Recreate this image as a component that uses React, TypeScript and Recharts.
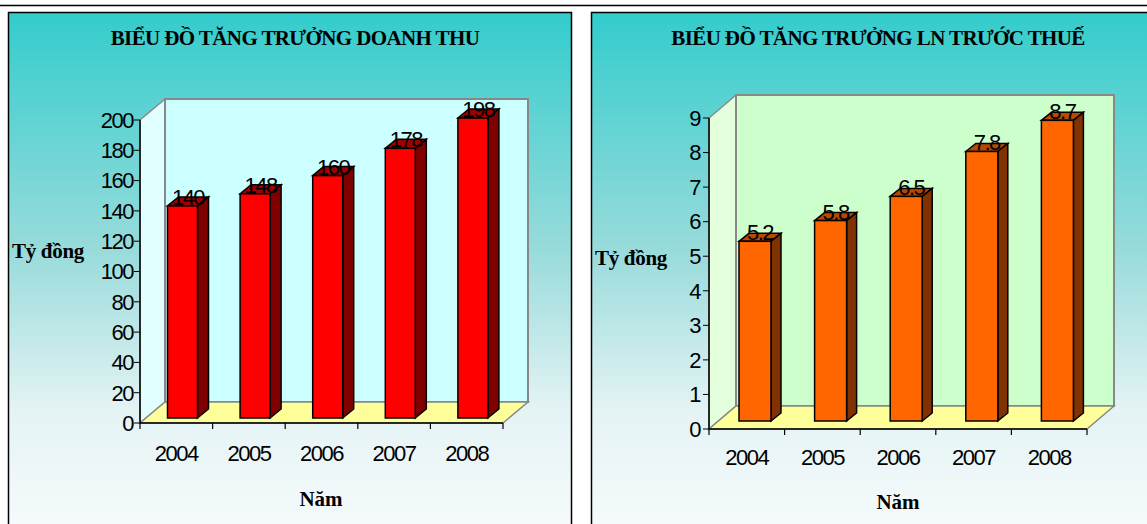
import { BarChart, Bar, XAxis, YAxis, ReferenceArea } from 'recharts'

const years = ['2004', '2005', '2006', '2007', '2008']
const revenue = [140, 148, 160, 178, 198]
const profit = [5.2, 5.8, 6.5, 7.8, 8.7]
const revenueTicks = [0, 20, 40, 60, 80, 100, 120, 140, 160, 180, 200]
const profitTicks = [0, 1, 2, 3, 4, 5, 6, 7, 8, 9]

const revenueData = years.map((y, i) => ({ year: y, value: revenue[i] }))
const profitData = years.map((y, i) => ({ year: y, value: profit[i] }))

const numFont = { fontFamily: '"Liberation Sans", Arial, sans-serif', fontSize: 22, letterSpacing: -1.5, fill: '#000' }
const serifBold = { fontFamily: '"Liberation Serif", "Times New Roman", serif', fontWeight: 700 }

// 3D walls + floor drawn around the plot area the ReferenceArea gets from the scales
const Walls = ({ x, y, width, height, depth, wall, sideWall, count }: any) => {
  const [dx, dy] = depth
  const b = y + height
  const step = width / count
  return (
    <g>
      <polygon points={`${x},${b} ${x},${y} ${x + dx},${y - dy} ${x + dx},${b - dy}`} fill={sideWall} stroke="#888" strokeWidth={1.5} />
      <rect x={x + dx} y={y - dy} width={width} height={height} fill={wall} stroke="#888" strokeWidth={2} />
      <polygon points={`${x},${b} ${x + dx},${b - dy} ${x + width + dx},${b - dy} ${x + width},${b}`} fill="#ffff99" stroke="#888" strokeWidth={1.5} />
      {Array.from({ length: count + 1 }, (_, i) => (
        <line key={i} x1={x + i * step} x2={x + i * step} y1={b} y2={b + 6} stroke="#000" strokeWidth={1.2} />
      ))}
    </g>
  )
}

const Bar3D = ({ x, y, width, height, value, front, side, top, shift, depth }: any) => {
  const [ox, oy] = shift
  const [dx, dy] = depth
  const fx = x + ox
  const fy = y - oy
  return (
    <g>
      <polygon points={`${fx},${fy} ${fx + dx},${fy - dy} ${fx + width + dx},${fy - dy} ${fx + width},${fy}`} fill={top} stroke="#000" strokeWidth={1.5} />
      <polygon points={`${fx + width},${fy} ${fx + width + dx},${fy - dy} ${fx + width + dx},${fy + height - dy} ${fx + width},${fy + height}`} fill={side} stroke="#000" strokeWidth={1.5} />
      <rect x={fx} y={fy} width={width} height={height} fill={front} stroke="#000" strokeWidth={1.5} />
      <text x={fx + width / 2 + dx / 2} y={fy - 1} textAnchor="middle" {...numFont}>{value}</text>
    </g>
  )
}

export default function App() {
  return (
    <div style={{ position: 'fixed', left: 0, top: 0, width: 1147, height: 524, background: '#fff', overflow: 'hidden' }}>
      <svg width={1147} height={524} style={{ position: 'absolute', left: 0, top: 0 }}>
        <defs>
          <linearGradient id="panelBg" x1="0" y1="0" x2="0" y2="1">
            <stop offset="0%" stopColor="#33cccc" />
            <stop offset="45%" stopColor="#99dbdb" />
            <stop offset="75%" stopColor="#e4f3f4" />
            <stop offset="100%" stopColor="#f8fbfd" />
          </linearGradient>
        </defs>
        <line x1={0} x2={1147} y1={5.5} y2={5.5} stroke="#000" strokeWidth={1.5} />
        <rect x={8.5} y={12.5} width={563} height={530} fill="url(#panelBg)" stroke="#000" strokeWidth={1.5} />
        <rect x={591.5} y={12.5} width={570} height={530} fill="url(#panelBg)" stroke="#000" strokeWidth={1.5} />
      </svg>

      <div style={{ position: 'absolute', left: 0, top: 0 }}>
        <BarChart width={580} height={524} data={revenueData} margin={{ top: 120, right: 77, bottom: 71, left: 80 }}>
          <XAxis dataKey="year" axisLine={{ stroke: '#000', strokeWidth: 1.5 }} tickLine={false} tickSize={19} tickMargin={3} tick={numFont} />
          <YAxis domain={[0, 200]} ticks={revenueTicks} width={60} axisLine={{ stroke: '#000', strokeWidth: 1.5 }} tickLine={{ stroke: '#000' }} tickSize={6} tickMargin={1} tick={numFont} interval={0} />
          <ReferenceArea y1={0} y2={200} zIndex={-60} ifOverflow="visible"
            shape={(p: any) => <Walls {...p} depth={[25, 21]} wall="#ccffff" sideWall="#e2ffff" count={years.length} />} />
          <Bar dataKey="value" barSize={30} isAnimationActive={false}
            shape={(p: any) => <Bar3D {...p} front="#ff0000" side="#800000" top="#a00000" shift={[6.5, 5]} depth={[11, 9]} />} />
        </BarChart>
      </div>

      <div style={{ position: 'absolute', left: 580, top: 0 }}>
        <BarChart width={567} height={524} data={profitData} margin={{ top: 118, right: 60, bottom: 65, left: 69 }}>
          <XAxis dataKey="year" axisLine={{ stroke: '#000', strokeWidth: 1.5 }} tickLine={false} tickSize={17} tickMargin={3} tick={numFont} />
          <YAxis domain={[0, 9]} ticks={profitTicks} width={60} axisLine={{ stroke: '#000', strokeWidth: 1.5 }} tickLine={{ stroke: '#000' }} tickSize={6} tickMargin={3} tick={numFont} interval={0} />
          <ReferenceArea y1={0} y2={9} zIndex={-60} ifOverflow="visible"
            shape={(p: any) => <Walls {...p} depth={[27, 23]} wall="#ccffcc" sideWall="#e4ffdc" count={years.length} />} />
          <Bar dataKey="value" barSize={32} isAnimationActive={false}
            shape={(p: any) => <Bar3D {...p} front="#ff6600" side="#803300" top="#b84a00" shift={[8, 8]} depth={[10, 8]} />} />
        </BarChart>
      </div>

      <svg width={1147} height={524} style={{ position: 'absolute', left: 0, top: 0, pointerEvents: 'none' }}>
        <text x={295} y={45} textAnchor="middle" {...serifBold} fontSize={21} letterSpacing={-0.6}>BIỂU ĐỒ TĂNG TRƯỞNG DOANH THU</text>
        <text x={878} y={45} textAnchor="middle" {...serifBold} fontSize={21} letterSpacing={-0.6}>BIỂU ĐỒ TĂNG TRƯỞNG LN TRƯỚC THUẾ</text>
        <text x={12} y={258} {...serifBold} fontSize={21} letterSpacing={-0.3}>Tỷ đồng</text>
        <text x={595} y={265} {...serifBold} fontSize={21} letterSpacing={-0.3}>Tỷ đồng</text>
        <text x={321} y={506} textAnchor="middle" {...serifBold} fontSize={21}>Năm</text>
        <text x={898} y={509} textAnchor="middle" {...serifBold} fontSize={21}>Năm</text>
      </svg>
    </div>
  )
}
